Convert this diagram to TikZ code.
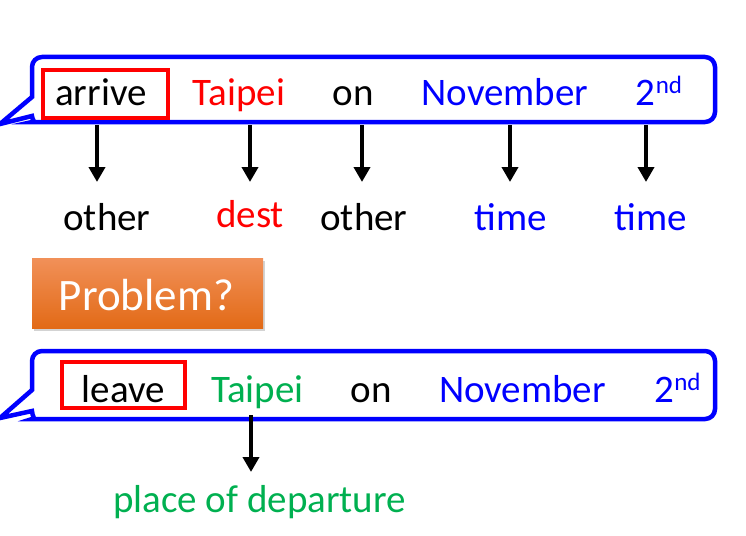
\documentclass[tikz,border=0pt]{standalone}
\usepackage{fontspec}
\setmainfont{Carlito}
\usetikzlibrary{arrows.meta,shadows}
\definecolor{pgreen}{RGB}{0,176,80}
\definecolor{pblue}{RGB}{0,0,255}
\definecolor{pred}{RGB}{255,0,0}
\definecolor{otop}{RGB}{241,144,88}
\definecolor{omid}{RGB}{245,128,45}
\definecolor{obot}{RGB}{226,106,22}
\newcommand\ordnd{\raisebox{12pt}{\fontsize{25}{25}\selectfont nd}}
\begin{document}
\begin{tikzpicture}[x=1pt,y=-1pt,
  word/.style={inner sep=0pt, anchor=base, font=\fontsize{39}{47}\selectfont},
  callout/.style={draw=pblue, line width=4.5pt, line join=miter, fill=white},
  hilite/.style={draw=pred, line width=3.5pt},
  arr/.style={line width=4pt, -{Triangle[width=16pt,length=15pt]}},
  probbox/.style={inner sep=0pt, minimum width=231pt, minimum height=70pt,
    top color=otop, middle color=omid, bottom color=obot, text=white,
    font=\fontsize{45}{54}\selectfont,
    drop shadow={shadow xshift=2pt, shadow yshift=-2.5pt, opacity=0.35}}]
\useasboundingbox (0,0) rectangle (746,535);

% top callout
\draw[callout] (0,124) -- (32,97) [rounded corners=10pt] -- (32,57) -- (715,57) -- (715,122) -- (42,122) [sharp corners] .. controls (36,122) and (32,120) .. (32,116) -- cycle;
\draw[hilite] (43,70) rectangle (168,118);
\node[word] (w1) at (101,105) {arrive};
\node[word, text=pred] (w2) at (239,105) {Taipei};
\node[word] (w3) at (353,105) {on};
\node[word, text=pblue] (w4) at (505,105) {November};
\node[word, text=pblue] (w5) at (659,105) {2\ordnd};

% arrows top
\foreach \i/\x in {1/97, 2/250, 3/362, 4/510, 5/646} {
  \coordinate (s\i) at (\x,125);
  \coordinate (e\i) at (\x,182);
  \draw[arr] (s\i) -- (e\i);
}

% labels
\node[word] (l1) at (107,230) {other};
\node[word, text=pred] (l2) at (250,227) {dest};
\node[word] (l3) at (364,230) {other};
\node[word, text=pblue] (l4) at (511,230) {time};
\node[word, text=pblue] (l5) at (651,230) {time};

% problem box
\node[probbox] (prob) at (147.5,293.5) {};
\node[word, font=\fontsize{45}{54}\selectfont, text=white] (probtxt) at (146.5,310) {Problem?};

% bottom callout
\draw[callout] (0,418) -- (32,390) [rounded corners=10pt] -- (32,351) -- (715,351) -- (715,419) -- (42,419) [sharp corners] .. controls (36,419) and (32,416) .. (32,411) -- cycle;
\draw[hilite] (62,362) rectangle (185,408);
\node[word] (v1) at (123.5,402) {leave};
\node[word, text=pgreen] (v2) at (257.5,402) {Taipei};
\node[word] (v3) at (371,402) {on};
\node[word, text=pblue] (v4) at (522.5,402) {November};
\node[word, text=pblue] (v5) at (677.5,402) {2\ordnd};

\coordinate (bs) at (251,415);
\coordinate (be) at (251,472);
\draw[arr] (bs) -- (be);
\node[word, text=pgreen] (dep) at (259.5,512) {place of departure};
\end{tikzpicture}
\end{document}
